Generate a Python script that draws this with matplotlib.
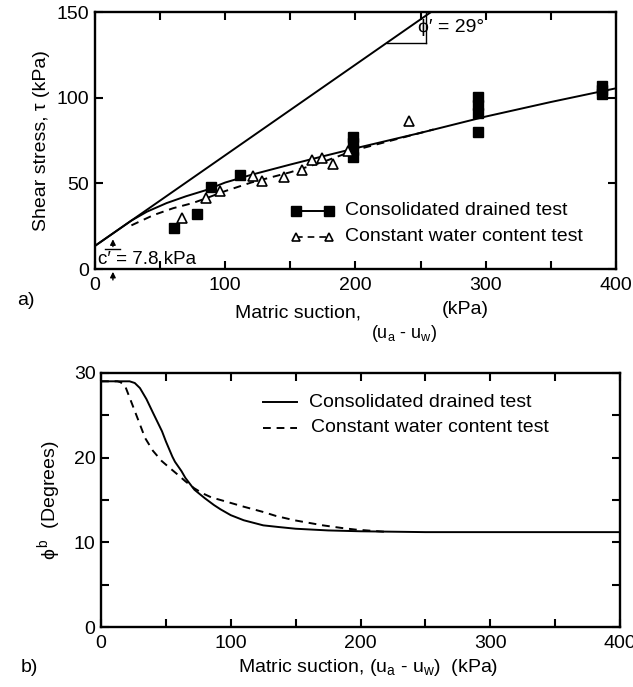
import matplotlib
matplotlib.use("Agg")
import matplotlib.pyplot as plt

plt.rcParams['font.family'] = ['Liberation Sans', 'DejaVu Sans']
plt.rcParams['mathtext.fontset'] = 'custom'
plt.rcParams['mathtext.rm'] = 'Liberation Sans'
plt.rcParams['mathtext.it'] = 'Liberation Sans'
plt.rcParams['mathtext.default'] = 'regular'

# ---------------- data: panel a ----------------
cd_x = [61, 78, 89, 111, 198, 198, 198, 198, 294, 294, 294, 294, 389, 389, 389]
cd_y = [24, 32, 48, 55, 65.5, 69.5, 73.5, 77, 80, 91, 96, 100.5, 102, 104.5, 107]
cw_x = [67, 85, 96, 121, 128, 145, 159, 167, 174.5, 182.5, 194, 241]
cw_y = [30, 41.5, 45.5, 54.5, 51.5, 54, 58, 63.5, 65, 61.5, 69, 86.5]
cd_fit_x = [0, 28, 40, 55, 70, 85, 100, 120, 150, 175, 200, 250, 300, 350, 400]
cd_fit_y = [13.5, 28.3, 33.5, 38.5, 42.5, 46, 50.5, 55, 61, 65.8, 70.5, 79.5, 89, 97.5, 105.5]
cw_fit_x = [28, 45, 60, 75, 86, 100, 120, 150, 175, 200, 225, 260]
cw_fit_y = [25.5, 31.5, 35.5, 38.5, 41.5, 45.5, 50.5, 56.5, 62.5, 69.5, 74.5, 81.5]
env_x = [0, 258]
env_y = [13.5, 150]

# ---------------- data: panel b ----------------
phib_cd_x = [0, 22, 26, 30, 35, 40, 47, 50, 55, 57, 62, 65, 72, 80, 87, 92, 100, 110,
             125, 137, 150, 175, 200, 250, 400]
phib_cd_y = [29, 29, 28.8, 28.2, 26.9, 25.3, 23.1, 21.9, 20.1, 19.5, 18.4, 17.6, 16.2,
             15.2, 14.4, 13.9, 13.2, 12.6, 12.0, 11.8, 11.6, 11.4, 11.3, 11.2, 11.2]
phib_cw_x = [0, 12.5, 15, 18.7, 25, 34, 40, 46.7, 52, 59, 65, 71.6, 78, 85, 96.5, 110,
             124.5, 135, 149, 160, 171, 185, 196, 205, 218]
phib_cw_y = [29, 29, 28.9, 28.4, 25.9, 22.3, 20.8, 19.6, 18.9, 18.0, 17.2, 16.4, 15.8,
             15.3, 14.8, 14.2, 13.6, 13.1, 12.6, 12.3, 12.0, 11.7, 11.5, 11.4, 11.25]

fig = plt.figure(figsize=(6.33, 6.87), dpi=100)
axa = fig.add_axes([0.150, 0.6084, 0.823, 0.374])
axb = fig.add_axes([0.1596, 0.0873, 0.820, 0.370])

def style(ax):
    for s in ax.spines.values():
        s.set_linewidth(1.7)
    ax.tick_params(which='both', direction='in', top=True, right=True,
                   width=1.5, labelsize=14)
    ax.tick_params(which='major', length=6)
    ax.tick_params(which='minor', length=6)

# ---- panel a ----
axa.plot(env_x, env_y, color='black', lw=1.4)
axa.plot(cd_fit_x, cd_fit_y, color='black', lw=1.4)
axa.plot(cw_fit_x, cw_fit_y, color='black', lw=1.4, ls=(0, (4, 3)))
axa.plot(cd_x, cd_y, ls='none', marker='s', ms=7.5, color='black')
axa.plot(cw_x, cw_y, ls='none', marker='^', ms=6.5, mfc='white', mec='black', mew=1.2)
axa.set_xlim(0, 400)
axa.set_ylim(0, 150)
axa.set_xticks([0, 100, 200, 300, 400])
axa.set_xticks([50, 150, 250, 350], minor=True)
axa.set_yticks([0, 50, 100, 150])
style(axa)
axa.tick_params(axis='x', pad=6)
axa.tick_params(axis='y', pad=4)
axa.set_ylabel('Shear stress, τ (kPa)', fontsize=14, labelpad=5)

# slope triangle and annotation
axa.plot([224, 254], [132, 132], color='black', lw=1.0)
axa.plot([254, 254], [132, 150], color='black', lw=1.0, clip_on=False)
axa.text(248, 141, "ϕ′ = 29°", fontsize=14, va='center', ha='left')
# c' annotation
axa.plot([7.7, 19.2], [11.5, 11.5], color='black', lw=1.0)
axa.annotate('', xy=(13.8, 19), xytext=(13.8, 11.5),
             arrowprops=dict(arrowstyle='-|>', color='black', lw=1.0, mutation_scale=8))
axa.annotate('', xy=(13.8, 0), xytext=(13.8, -8),
             arrowprops=dict(arrowstyle='-|>', color='black', lw=1.0, mutation_scale=8),
             annotation_clip=False)
axa.text(2.5, 5.3, "c′ = 7.8 kPa", fontsize=13.5, va='center', ha='left')

# legend panel a
axa.plot([154, 180], [33.9, 33.9], color='black', lw=1.4, marker='s', ms=7.5)
axa.plot([154, 180], [18.7, 18.7], color='black', lw=1.2, ls=(0, (4, 3)),
         marker='^', ms=6, mfc='white', mec='black', mew=1.2)
axa.text(192, 33.9, 'Consolidated drained test', fontsize=14, va='center', ha='left')
axa.text(192, 18.7, 'Constant water content test', fontsize=14, va='center', ha='left')

fig.text(0.371, 0.544, 'Matric suction,', fontsize=14, va='center', ha='left')
fig.text(0.586, 0.515, r'(u$_a$ - u$_w$)', fontsize=13, va='center', ha='left')
fig.text(0.698, 0.549, '(kPa)', fontsize=14, va='center', ha='left')
fig.text(0.027, 0.563, 'a)', fontsize=14, va='center', ha='left')

# ---- panel b ----
axb.plot(phib_cd_x, phib_cd_y, color='black', lw=1.4)
axb.plot(phib_cw_x, phib_cw_y, color='black', lw=1.4, ls=(0, (4, 3)))
axb.set_xlim(0, 400)
axb.set_ylim(0, 30)
axb.set_xticks([0, 100, 200, 300, 400])
axb.set_xticks([50, 150, 250, 350], minor=True)
axb.set_yticks([0, 10, 20, 30])
axb.set_yticks([5, 15, 25], minor=True)
style(axb)
axb.tick_params(axis='x', pad=6)
axb.tick_params(axis='y', pad=4)
axb.set_ylabel(r'$\phi^{\,b}$  (Degrees)', fontsize=14, labelpad=8)

axb.plot([124.5, 151], [26.5, 26.5], color='black', lw=1.4)
axb.plot([124.5, 151], [23.5, 23.5], color='black', lw=1.4, ls=(0, (4, 3)))
axb.text(160, 26.5, 'Consolidated drained test', fontsize=14, va='center', ha='left')
axb.text(162, 23.5, 'Constant water content test', fontsize=14, va='center', ha='left')

fig.text(0.581, 0.029, r'Matric suction, (u$_a$ - u$_w$)  (kPa)', fontsize=14,
         va='center', ha='center')
fig.text(0.032, 0.029, 'b)', fontsize=14, va='center', ha='left')

fig.savefig('out.png', dpi=100)
